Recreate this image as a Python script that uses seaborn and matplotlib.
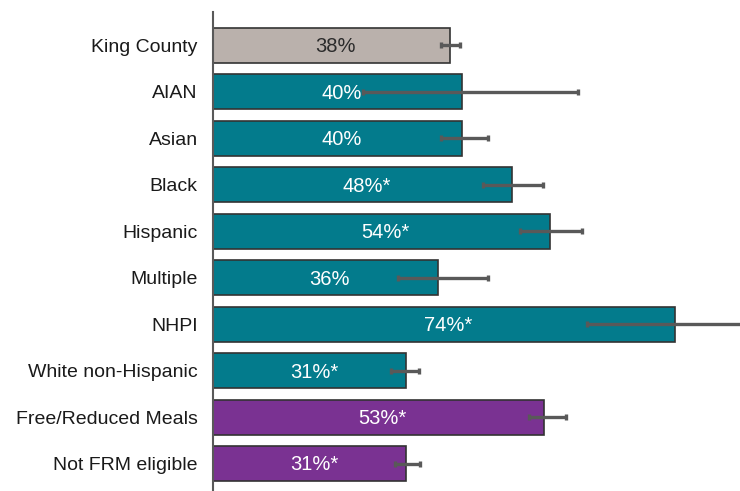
import numpy as np
import pandas as pd
import matplotlib
matplotlib.use("Agg")
import matplotlib.pyplot as plt
import seaborn as sns

categories = ["King County", "AIAN", "Asian", "Black", "Hispanic", "Multiple",
              "NHPI", "White non-Hispanic", "Free/Reduced Meals", "Not FRM eligible"]
values = [38, 40, 40, 48, 54, 36, 74, 31, 53, 31]
lower = [36.5, 24.0, 36.5, 43.3, 49.2, 29.6, 59.9, 28.5, 50.6, 29.2]
upper = [39.6, 58.5, 44.1, 52.9, 59.1, 44.1, 90.0, 33.0, 56.6, 33.2]
labels = ["38%", "40%", "40%", "48%*", "54%*", "36%", "74%*", "31%*", "53%*", "31%*"]
groups = ["county", "race", "race", "race", "race", "race", "race", "race", "frm", "frm"]

colors = {"county": "#bab1ac", "race": "#037b8c", "frm": "#7a3292"}

df = pd.DataFrame({"category": categories, "value": values, "group": groups})

sns.set_style("white")
plt.rcParams["font.family"] = ["Liberation Sans", "DejaVu Sans"]

fig = plt.figure(figsize=(7.4, 4.91), dpi=100)
ax = fig.add_axes([0.2878, 0.0, 0.7122, 1 - 12 / 491])

sns.barplot(data=df, x="value", y="category", hue="group", palette=colors,
            orient="h", dodge=False, width=0.75, legend=False, saturation=1,
            edgecolor="#333333", linewidth=1.2, ax=ax)

y = np.arange(len(categories))
v = np.array(values)
xerr = [v - np.array(lower), np.array(upper) - v]
ax.errorbar(v, y, xerr=xerr, fmt="none", ecolor="#595959", elinewidth=2.4,
            capsize=2.5, capthick=2.4, zorder=5)

for i, (val, lab) in enumerate(zip(values, labels)):
    c = "#2b2b2b" if groups[i] == "county" else "white"
    ax.text(val / 2 + 0.7, i + 0.03, lab, ha="center", va="center", fontsize=14.5,
            color=c, zorder=6)

ax.set_xlim(0, 84.5)
ax.set_ylim(9.59, -0.72)
ax.set_xlabel("")
ax.set_ylabel("")
ax.set_xticks([])
ax.tick_params(axis="y", length=0, pad=11, labelsize=14, labelcolor="#1a1a1a")
for s in ["top", "right", "bottom"]:
    ax.spines[s].set_visible(False)
ax.spines["left"].set_color("#595959")
ax.spines["left"].set_linewidth(1.5)

fig.savefig("out.png", dpi=100)
